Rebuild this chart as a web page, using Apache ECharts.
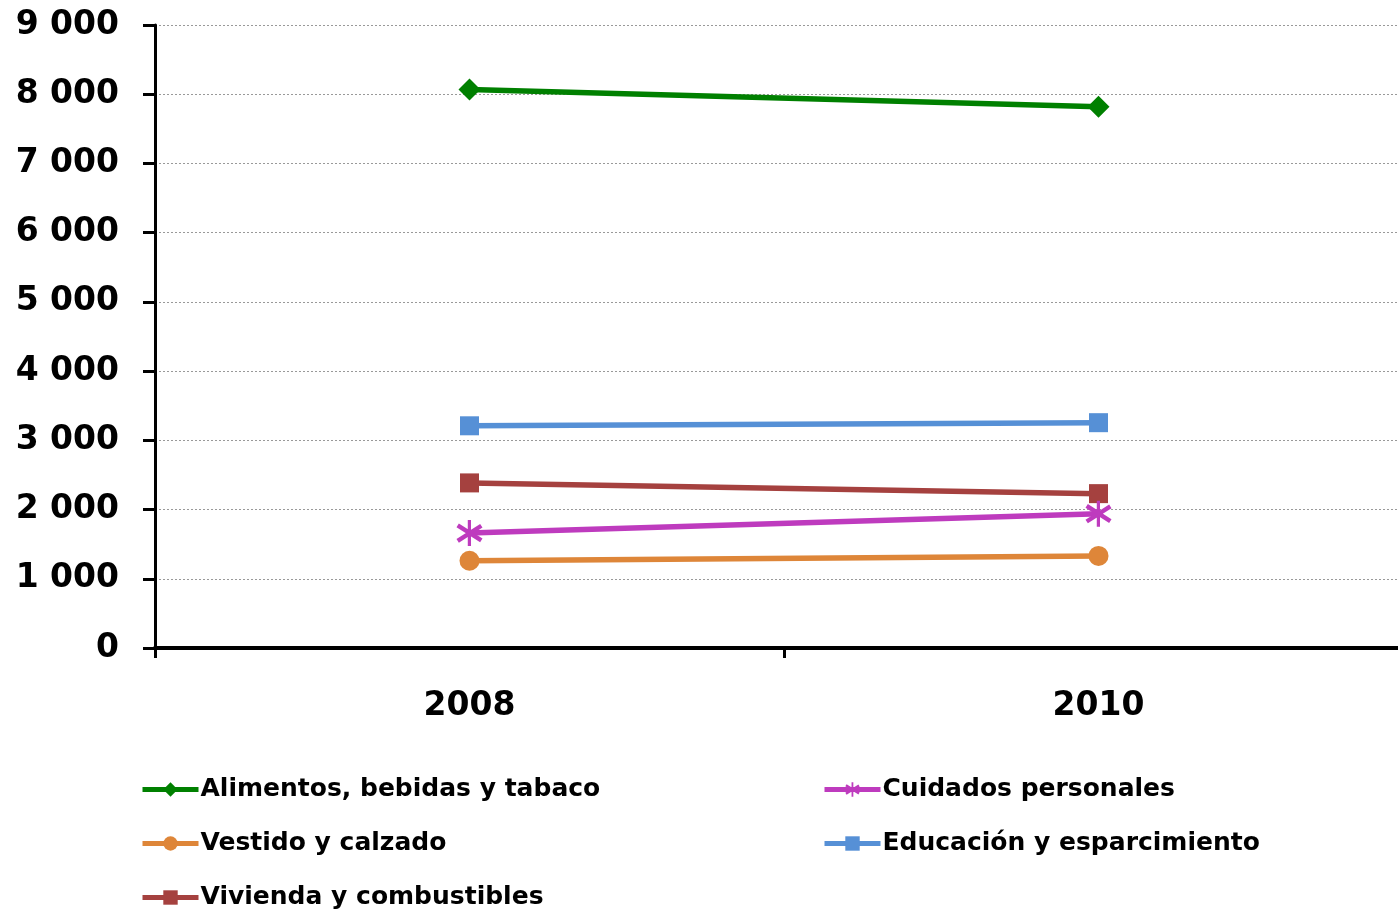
<!DOCTYPE html>
<html>
<head>
<meta charset="utf-8">
<style>html,body{margin:0;padding:0;background:#fff}#c{width:1398px;height:911px}</style>
<script src="https://cdn.jsdelivr.net/npm/echarts@6/dist/echarts.min.js"></script>
</head>
<body>
<div id="c"></div>
<script>
const categories = ['2008', '2010'];
const alimentos = [8070, 7820];
const vestido = [1260, 1330];
const vivienda = [2385, 2230];
const cuidados = [1660, 1940];
const educacion = [3210, 3255];
const yTicks = { min: 0, max: 9000, interval: 1000 };

const names = {
  alimentos: 'Alimentos, bebidas y tabaco',
  vestido: 'Vestido y calzado',
  vivienda: 'Vivienda y combustibles',
  cuidados: 'Cuidados personales',
  educacion: 'Educación y esparcimiento'
};

const asterisk = 'path://M10.5 0L13.5 0L13.5 24L10.5 24Z M2.2 3.1L24.2 17.1L22.0 20.5L0 6.5Z M0 17.5L22.0 3.5L24.2 6.9L2.2 20.9Z';
const FONT = 'DejaVu Sans';

function fmt(v) {
  return String(v).replace(/\B(?=(\d{3})+(?!\d))/g, ' ');
}

function mk(name, data, color, symbol, size) {
  return {
    name: name, type: 'line', data: data,
    symbol: symbol, symbolSize: size,
    lineStyle: { color: color, width: 5.5 },
    itemStyle: { color: color },
    emphasis: { disabled: true },
    z: 3
  };
}

const legendCommon = {
  orient: 'vertical', itemWidth: 56, itemHeight: 18, itemGap: 29, padding: 0, height: 140,
  lineStyle: { width: 5 },
  textStyle: { fontFamily: FONT, fontWeight: 'bold', fontSize: 25, color: '#000', padding: [0, 0, 0, -3] },
  selectedMode: false
};

const chart = echarts.init(document.getElementById('c'));
chart.setOption({
  animation: false,
  backgroundColor: '#fff',
  grid: { left: 155, top: 25, width: 1258, height: 623, containLabel: false, outerBoundsMode: 'none' },
  xAxis: {
    type: 'category', data: categories, boundaryGap: true,
    axisLine: { lineStyle: { color: '#000', width: 4 } },
    axisTick: { show: true, length: 10, lineStyle: { color: '#000', width: 3 } },
    axisLabel: { fontFamily: FONT, fontWeight: 'bold', fontSize: 33, color: '#000', margin: 42 },
    splitLine: { show: false }
  },
  yAxis: {
    type: 'value', min: yTicks.min, max: yTicks.max, interval: yTicks.interval,
    axisLine: { show: true, lineStyle: { color: '#000', width: 3 } },
    axisTick: { show: true, length: 12, lineStyle: { color: '#000', width: 3 } },
    axisLabel: { fontFamily: FONT, fontWeight: 'bold', fontSize: 33, color: '#000', margin: 36, formatter: fmt, padding: [4, 0, 0, 0] },
    splitLine: { show: true, lineStyle: { color: '#999', width: 1, type: [2, 2] } }
  },
  legend: [
    Object.assign({}, legendCommon, { left: 140, top: 777, data: [names.alimentos, names.vestido, names.vivienda] }),
    Object.assign({}, legendCommon, { left: 822, top: 777, data: [names.cuidados, names.educacion] })
  ],
  series: [
    mk(names.alimentos, alimentos, '#008000', 'diamond', 22),
    mk(names.vestido, vestido, '#DE8639', 'circle', 20),
    mk(names.vivienda, vivienda, '#A5413F', 'rect', 19),
    mk(names.cuidados, cuidados, '#BE3BBE', asterisk, 26),
    mk(names.educacion, educacion, '#5690D6', 'rect', 19)
  ]
});
</script>
</body>
</html>
